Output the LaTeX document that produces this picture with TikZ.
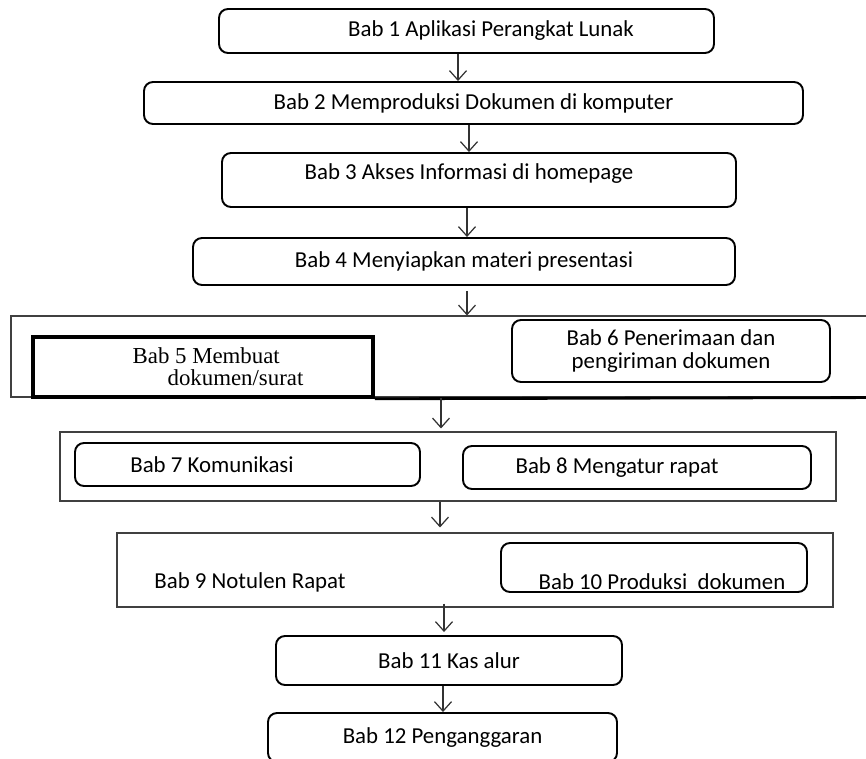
\documentclass[tikz,border=0pt]{standalone}
\usepackage{fontspec}
\setmainfont{Carlito}
\newfontfamily\timesfont{Liberation Serif}
\usetikzlibrary{arrows.meta}

\begin{document}
\begin{tikzpicture}[x=0.02cm,y=-0.02cm,
    txt/.style={font=\fontsize{13}{13.2}\selectfont},
    box/.style={txt, draw, line width=1.1pt, rounded corners=0.18cm, align=center},
    frame/.style={draw=black!75, line width=0.6pt, inner sep=0pt},
    arr/.style={draw=black!80, line width=0.7pt, -{Straight Barb[length=0.19cm,width=0.34cm]}}]
        \def\px{0.02cm}
        \useasboundingbox (0,0) rectangle (866,758);

        % single chapters
        \node (b1) at (466.5,31) [box, minimum width=495*\px, minimum height=44*\px]
            {\hspace*{0.98cm}Bab 1 Aplikasi Perangkat Lunak};
        \node (b2) at (473.5,103) [box, minimum width=659*\px, minimum height=42*\px]
            {Bab 2 Memproduksi Dokumen di komputer};
        \node (b3) at (479,180) [box, minimum width=514*\px, minimum height=54*\px, text depth=0.35cm]
            {Bab 3 Akses Informasi di homepage\hspace*{0.4cm}};
        \node (b4) at (464,261.5) [box, minimum width=542*\px, minimum height=47*\px]
            {Bab 4 Menyiapkan materi presentasi};

        % bab 5 and 6
        \node (fa) at (445.5,356.5) [frame, minimum width=869*\px, minimum height=81*\px] {};
        \node (b5) at (203,367) [draw, line width=2pt, align=left, minimum width=340*\px, minimum height=60*\px,
            font=\timesfont\fontsize{13}{12.6}\selectfont]
            {\hspace*{0.6cm}Bab 5 Membuat\\\hspace*{1.3cm}dokumen/surat};
        \node (b6) at (671,351) [box, minimum width=318*\px, minimum height=62*\px]
            {Bab 6 Penerimaan dan\\pengiriman dokumen};
        \draw[line width=1.6pt] (b5.south east) -- (fa.south east);

        % bab 7 and 8
        \node (fb) at (448,466.5) [frame, minimum width=776*\px, minimum height=69*\px] {};
        \node (b7) at (247.5,464.5) [box, minimum width=345*\px, minimum height=43*\px]
            {Bab 7 Komunikasi\hspace*{1.42cm}};
        \node (b8) at (637,467.5) [box, minimum width=348*\px, minimum height=43*\px]
            {Bab 8 Mengatur rapat\hspace*{0.8cm}};

        % bab 9 and 10
        \node (fc) at (475,570) [frame, minimum width=716*\px, minimum height=74*\px] {};
        \node (t9) at (250,582) [txt] {Bab 9 Notulen Rapat};
        \node (b10) at (654,567.5) [box, minimum width=306*\px, minimum height=49*\px,
            text height=0.9cm, inner ysep=0pt]
            {\hspace*{0.32cm}Bab 10 Produksi\ \ dokumen};

        \node (b11) at (449,660.5) [box, minimum width=346*\px, minimum height=49*\px] {Bab 11 Kas alur};
        \node (b12) at (442.5,737.5) [box, minimum width=349*\px, minimum height=49*\px] {Bab 12 Penganggaran};

        \draw[arr] (b1.south -| 458,0) -- (b2.north -| 458,0);
        \draw[arr] (b2.south -| 469,0) -- (b3.north -| 469,0);
        \draw[arr] (b3.south -| 467,0) -- (b4.north -| 467,0);
        \draw[arr, shorten <=0.1cm] (b4.south -| 467,0) -- (fa.north -| 467,0);
        \draw[arr, shorten >=0.06cm] (fa.south -| 441,0) -- (fb.north -| 441,0);
        \draw[arr, shorten >=0.1cm] (fb.south -| 440,0) -- (fc.north -| 440,0);
        \draw[arr, shorten <=-0.08cm, shorten >=0.06cm] (fc.south -| 444,0) -- (b11.north -| 444,0);
        \draw[arr] (b11.south -| 443,0) -- (b12.north -| 443,0);
\end{tikzpicture}
\end{document}
